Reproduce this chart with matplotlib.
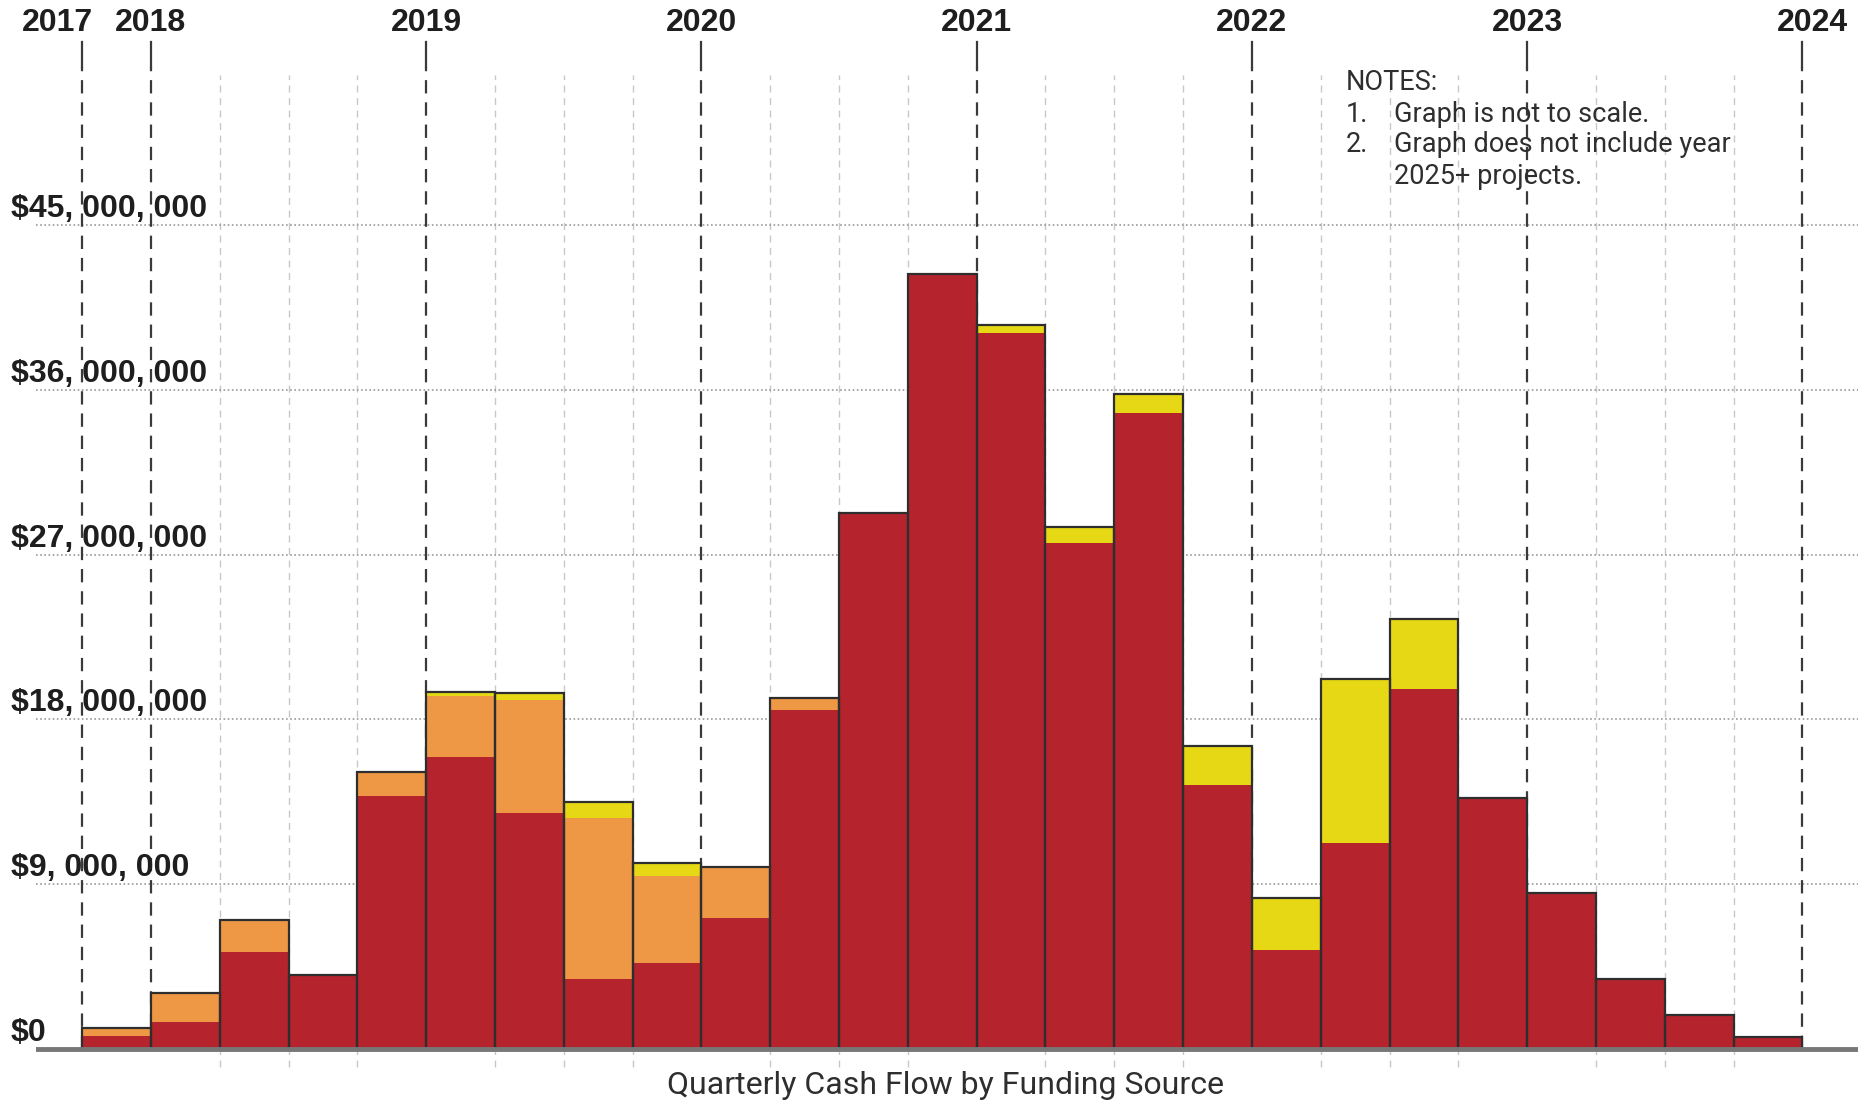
import matplotlib
matplotlib.use("Agg")
import matplotlib.pyplot as plt
import numpy as np

plt.rcParams["font.family"] = ["Liberation Sans", "DejaVu Sans"]

# quarterly cash flow, millions of dollars
red = [0.71, 1.46, 5.3, 4.04, 13.79, 15.92, 12.91, 3.83, 4.72, 7.14, 18.52, 29.27, 42.33,
       39.1, 27.63, 34.74, 14.43, 5.41, 11.27, 19.64, 13.7, 8.51, 3.83, 1.86, 0.64]
orange = [0.42, 1.58, 1.75, 0.0, 1.31, 3.33, 6.16, 8.77, 4.73, 2.77, 0.64, 0, 0,
          0, 0, 0, 0, 0, 0, 0, 0, 0, 0, 0, 0]
yellow = [0, 0, 0, 0, 0, 0.26, 0.37, 0.91, 0.7, 0, 0, 0, 0,
          0.46, 0.87, 1.0, 2.13, 2.86, 8.93, 3.86, 0, 0, 0, 0, 0]

years = ["2017", "2018", "2019", "2020", "2021", "2022", "2023", "2024"]
year_pos = [0, 1, 5, 9, 13, 17, 21, 25]       # quarter index of each year line
year_shift = [-0.36, 0, 0, 0, 0, 0, 0, 0.15]    # nudge labels so they don't collide
y_ticks = [0, 9, 18, 27, 36, 45]
y_labels = ["$0", "$9, 000, 000", "$18, 000, 000", "$27, 000, 000",
            "$36, 000, 000", "$45, 000, 000"]

c_red = "#B5232D"
c_orange = "#EE9845"
c_yellow = "#E6D815"

fig = plt.figure(figsize=(18.68, 11.04), dpi=100)
ax = fig.add_axes([0.0193, 0.0308, 0.9754, 0.933])
ax.set_xlim(-0.67, 25.81)
ax.set_ylim(-1.15, 55.1)
ax.axis("off")

x = np.arange(len(red)) + 0.5
red = np.array(red)
orange = np.array(orange)
yellow = np.array(yellow)
total = red + orange + yellow

# light quarter grid
for q in range(0, 26):
    if q in year_pos:
        continue
    ax.plot([q, q], [-1.0, 53.2], color="#c8c8c8", lw=1.0, ls=(0, (5, 4)), zorder=1)

# horizontal dotted grid
for v in y_ticks[1:]:
    ax.axhline(v, color="#9a9a9a", lw=1.2, ls=(0, (1, 1.5)), zorder=1)

# year lines
for p in year_pos:
    ax.plot([p, p], [0, 53.6], color="#3a3a3a", lw=1.6, ls=(0, (6, 4)), zorder=1)
    ax.plot([p, p], [53.6, 55.0], color="#3a3a3a", lw=1.6, zorder=1, clip_on=False)

# stacked bars, outline drawn once around the total
ax.bar(x, red, width=1.0, color=c_red, lw=0, zorder=2)
ax.bar(x, orange, width=1.0, bottom=red, color=c_orange, lw=0, zorder=2)
ax.bar(x, yellow, width=1.0, bottom=red + orange, color=c_yellow, lw=0, zorder=2)
ax.bar(x, total, width=1.0, fill=False, edgecolor="#2e2e2e", lw=1.6, zorder=3)

# baseline
ax.axhline(0, color="#777777", lw=3.5, zorder=4)

# year labels on top
for lab, p, s in zip(years, year_pos, year_shift):
    ax.text(p + s, 56.05, lab, ha="center", va="center", fontsize=23,
            fontweight="bold", color="#1e1e1e", clip_on=False)

# y labels sit just above their gridlines
for v, lab in zip(y_ticks, y_labels):
    ax.text(-1.04, v + 0.05, lab, fontsize=23, fontweight="bold", color="#1e1e1e",
            ha="left", va="bottom", clip_on=False)

# notes
note_kw = dict(fontsize=19.5, color="#2e2e2e", va="center", ha="left",
               family=["Roboto", "DejaVu Sans"])
fig.text(1346 / 1868, 1 - 82 / 1104, "NOTES:", **note_kw)
fig.text(1346 / 1868, 1 - 114 / 1104, "1.", **note_kw)
fig.text(1394 / 1868, 1 - 114 / 1104, "Graph is not to scale.", **note_kw)
fig.text(1346 / 1868, 1 - 145 / 1104, "2.", **note_kw)
fig.text(1394 / 1868, 1 - 145 / 1104, "Graph does not include year", **note_kw)
fig.text(1394 / 1868, 1 - 177 / 1104, "2025+ projects.", **note_kw)

fig.text(945 / 1868, 1 - 1085 / 1104, "Quarterly Cash Flow by Funding Source",
         fontsize=23, color="#2e2e2e", ha="center", va="center",
         family=["Roboto", "DejaVu Sans"])

fig.savefig("out.png", dpi=100)
